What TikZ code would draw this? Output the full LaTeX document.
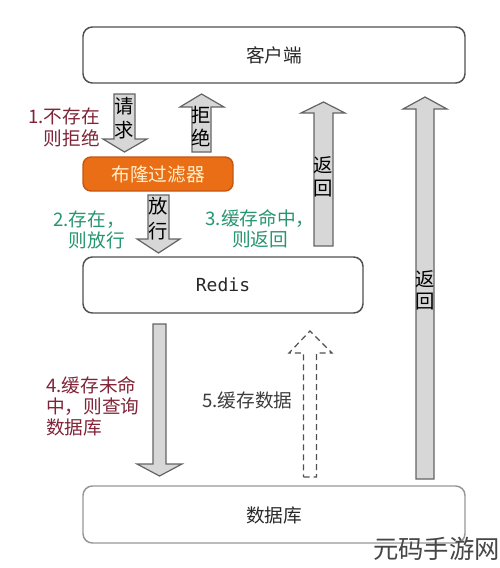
\documentclass[tikz,border=0pt]{standalone}
\usepackage{fontspec}
\setmainfont{Noto Sans CJK SC}
\newfontfamily\redisfont{DejaVu Sans Mono}
\usepackage{tikz}

\begin{document}
\begin{tikzpicture}[x=0.75pt,y=0.75pt,yscale=-1,xscale=1]
        %set diagram left start at 0, and has height of 568
        \useasboundingbox (0,0) rectangle (500,568);

        %Shape: Rectangle [client]
        \draw [color={rgb, 255:red, 80; green, 80; blue, 80 }  ,draw opacity=1 ][line width=1.1][rounded corners=7]   (83,27) rectangle (465,83) ;
        %Shape: Rectangle [bloom]
        \draw [color={rgb, 255:red, 200; green, 85; blue, 15 }  ,fill={rgb, 255:red, 234; green, 110; blue, 22 }  ,fill opacity=1 ][line width=1.1][rounded corners=6]   (83,157) rectangle (233,191) ;
        %Shape: Rectangle [redis]
        \draw [color={rgb, 255:red, 80; green, 80; blue, 80 }  ,draw opacity=1 ][line width=1.1][rounded corners=7]   (83,257) rectangle (363,313) ;
        %Shape: Rectangle [database]
        \draw [color={rgb, 255:red, 150; green, 150; blue, 150 }  ,draw opacity=1 ][line width=1.1][rounded corners=7]   (83,486) rectangle (465,543) ;

        %Shape: Polygon [request, down]
        \draw [color={rgb, 255:red, 100; green, 100; blue, 100 }  ,fill={rgb, 255:red, 215; green, 215; blue, 215 }  ,fill opacity=1 ][line width=0.9]   (114,94) -- (135,94) -- (135,139) -- (147,139) -- (124.5,152) -- (103,139) -- (114,139) -- cycle ;
        %Shape: Polygon [reject, up]
        \draw [color={rgb, 255:red, 100; green, 100; blue, 100 }  ,fill={rgb, 255:red, 215; green, 215; blue, 215 }  ,fill opacity=1 ][line width=0.9]   (192,152) -- (211,152) -- (211,107) -- (224,107) -- (201.5,94) -- (180,107) -- (192,107) -- cycle ;
        %Shape: Polygon [pass, down]
        \draw [color={rgb, 255:red, 100; green, 100; blue, 100 }  ,fill={rgb, 255:red, 215; green, 215; blue, 215 }  ,fill opacity=1 ][line width=0.9]   (148,195) -- (169,195) -- (169,239) -- (180,239) -- (158.5,253) -- (137,239) -- (148,239) -- cycle ;
        %Shape: Polygon [redis return, up]
        \draw [color={rgb, 255:red, 100; green, 100; blue, 100 }  ,fill={rgb, 255:red, 215; green, 215; blue, 215 }  ,fill opacity=1 ][line width=0.9]   (314,246) -- (333,246) -- (333,113) -- (345,113) -- (323.5,102) -- (301,113) -- (314,113) -- cycle ;
        %Shape: Polygon [database return, up]
        \draw [color={rgb, 255:red, 100; green, 100; blue, 100 }  ,fill={rgb, 255:red, 215; green, 215; blue, 215 }  ,fill opacity=1 ][line width=0.9]   (416,479) -- (434,479) -- (434,109) -- (447,109) -- (425,97) -- (403,109) -- (416,109) -- cycle ;
        %Shape: Polygon [query, down]
        \draw [color={rgb, 255:red, 100; green, 100; blue, 100 }  ,fill={rgb, 255:red, 215; green, 215; blue, 215 }  ,fill opacity=1 ][line width=0.9]   (153,324) -- (166,324) -- (166,464) -- (182,464) -- (159.5,476) -- (137,464) -- (153,464) -- cycle ;
        %Shape: Polygon [cache data, up, dashed]
        \draw [color={rgb, 255:red, 80; green, 80; blue, 80 }  ,fill={rgb, 255:red, 255; green, 255; blue, 255 }  ,fill opacity=1 ][line width=0.9][dash pattern={on 4.5pt off 3pt}]   (303.5,477) -- (316.5,477) -- (316.5,353) -- (332,353) -- (310,331) -- (289,353) -- (303.5,353) -- cycle ;

        % Text Node
        \draw (274,55) node (client) [inner sep=0.75pt][font=\fontsize{14}{17}\selectfont, color={rgb, 255:red, 40; green, 40; blue, 40 }]    {客户端};
        % Text Node
        \draw (158,174) node (bloom) [inner sep=0.75pt][font=\fontsize{14}{17}\selectfont, color={rgb, 255:red, 255; green, 240; blue, 205 }]    {布隆过滤器};
        % Text Node
        \draw (223,285) node (redis) [inner sep=0.75pt][font=\redisfont\fontsize{13.5}{17}\selectfont, color={rgb, 255:red, 40; green, 40; blue, 40 }]    {Redis};
        % Text Node
        \draw (274,515) node (database) [inner sep=0.75pt][font=\fontsize{14}{17}\selectfont, color={rgb, 255:red, 40; green, 40; blue, 40 }]    {数据库};

        % Text Node
        \draw (124.5,118) node (request) [inner sep=0.75pt][align=center][font=\fontsize{14.5}{18}\selectfont]    {请\\求};
        % Text Node
        \draw (201.5,126.5) node (reject) [inner sep=0.75pt][align=center][font=\fontsize{14.5}{17.5}\selectfont]    {拒\\绝};
        % Text Node
        \draw (158.5,218.5) node (pass) [inner sep=0.75pt][align=center][font=\fontsize{14.5}{18.5}\selectfont]    {放\\行};
        % Text Node
        \draw (323.5,176.5) node (back) [inner sep=0.75pt][align=center][font=\fontsize{14.5}{17}\selectfont]    {返\\回};
        % Text Node
        \draw (425,290) node (dbback) [inner sep=0.75pt][align=center][font=\fontsize{14.5}{16.5}\selectfont]    {返\\回};

        % Text Node
        \draw (101,127) node (step1) [anchor=east][inner sep=0.75pt][align=right][font=\fontsize{14}{16.5}\selectfont, color={rgb, 255:red, 128; green, 36; blue, 56 }]    {1.不存在\\则拒绝};
        % Text Node
        \draw (126,230) node (step2) [anchor=east][inner sep=0.75pt][align=right][font=\fontsize{14}{15.5}\selectfont, color={rgb, 255:red, 38; green, 150; blue, 112 }]    {2.存在，\\则放行};
        % Text Node
        \draw (260,228.5) node (step3) [inner sep=0.75pt][align=center][font=\fontsize{14}{15.5}\selectfont, color={rgb, 255:red, 38; green, 150; blue, 112 }]    {3.缓存命中，\\则返回};
        % Text Node
        \draw (45,406.5) node (step4) [anchor=west][inner sep=0.75pt][align=left][font=\fontsize{14}{16}\selectfont, color={rgb, 255:red, 128; green, 36; blue, 56 }]    {4.缓存未命\\中，则查询\\数据库};
        % Text Node
        \draw (201,400) node (step5) [anchor=west][inner sep=0.75pt][font=\fontsize{14}{16}\selectfont, color={rgb, 255:red, 60; green, 60; blue, 60 }]    {5.缓存数据};

        % Text Node
        \draw (500,549) node (mark) [anchor=east][inner sep=0pt][font=\fontsize{19}{22}\selectfont, color={rgb, 255:red, 70; green, 70; blue, 70 }]    {元码手游网};

    \end{tikzpicture}
\end{document}
